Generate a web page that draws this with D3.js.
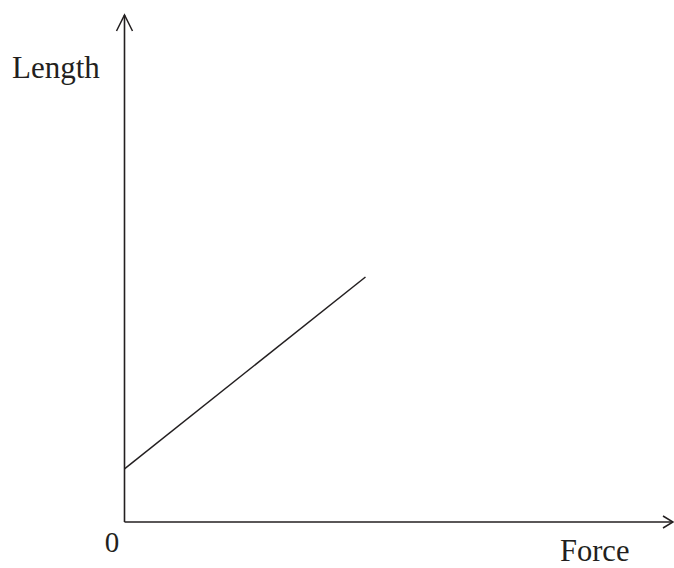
<!DOCTYPE html>
<html>
<head>
<meta charset="utf-8">
<script src="https://cdn.jsdelivr.net/npm/d3@7"></script>
<style>
html,body{margin:0;padding:0;background:#fff;}
svg{display:block;}
text{font-family:"Liberation Serif","Times New Roman",serif;fill:#231f20;}
</style>
</head>
<body>
<svg id="chart" width="674" height="568"></svg>
<script>
const forceValues = [0, 4.5];
const lengthValues = [1.08, 4.98];
const xLabel = "Force";
const yLabel = "Length";
const originLabel = "0";

const svg = d3.select("#chart");
const x = d3.scaleLinear().domain([0, 10]).range([124.5, 660]);
const y = d3.scaleLinear().domain([0, 10]).range([522, 30]);
const ink = "#231f20";

// y axis with arrow
svg.append("line").attr("x1", x(0)).attr("x2", x(0)).attr("y1", y(0)).attr("y2", 15)
  .attr("stroke", ink).attr("stroke-width", 1.6);
svg.append("path").attr("d", `M${x(0)-8},31 L${x(0)},15 L${x(0)+8},31`)
  .attr("fill", "none").attr("stroke", ink).attr("stroke-width", 1.5);

// x axis with arrow
svg.append("line").attr("x1", x(0)).attr("x2", 673).attr("y1", y(0)).attr("y2", y(0))
  .attr("stroke", ink).attr("stroke-width", 1.6);
svg.append("path").attr("d", `M663,${y(0)-6} L673,${y(0)} L663,${y(0)+6}`)
  .attr("fill", "none").attr("stroke", ink).attr("stroke-width", 1.5);

// data line
const pts = forceValues.map((f, i) => [f, lengthValues[i]]);
svg.append("path").datum(pts)
  .attr("d", d3.line().x(d => x(d[0])).y(d => y(d[1])))
  .attr("fill", "none").attr("stroke", ink).attr("stroke-width", 1.5);

// labels
svg.append("text").attr("x", 12).attr("y", 78).attr("font-size", 31).text(yLabel);
svg.append("text").attr("x", 112).attr("y", 552).attr("text-anchor", "middle").attr("font-size", 29).text(originLabel);
svg.append("text").attr("x", 560).attr("y", 561).attr("font-size", 30.5).text(xLabel);
</script>
</body>
</html>
